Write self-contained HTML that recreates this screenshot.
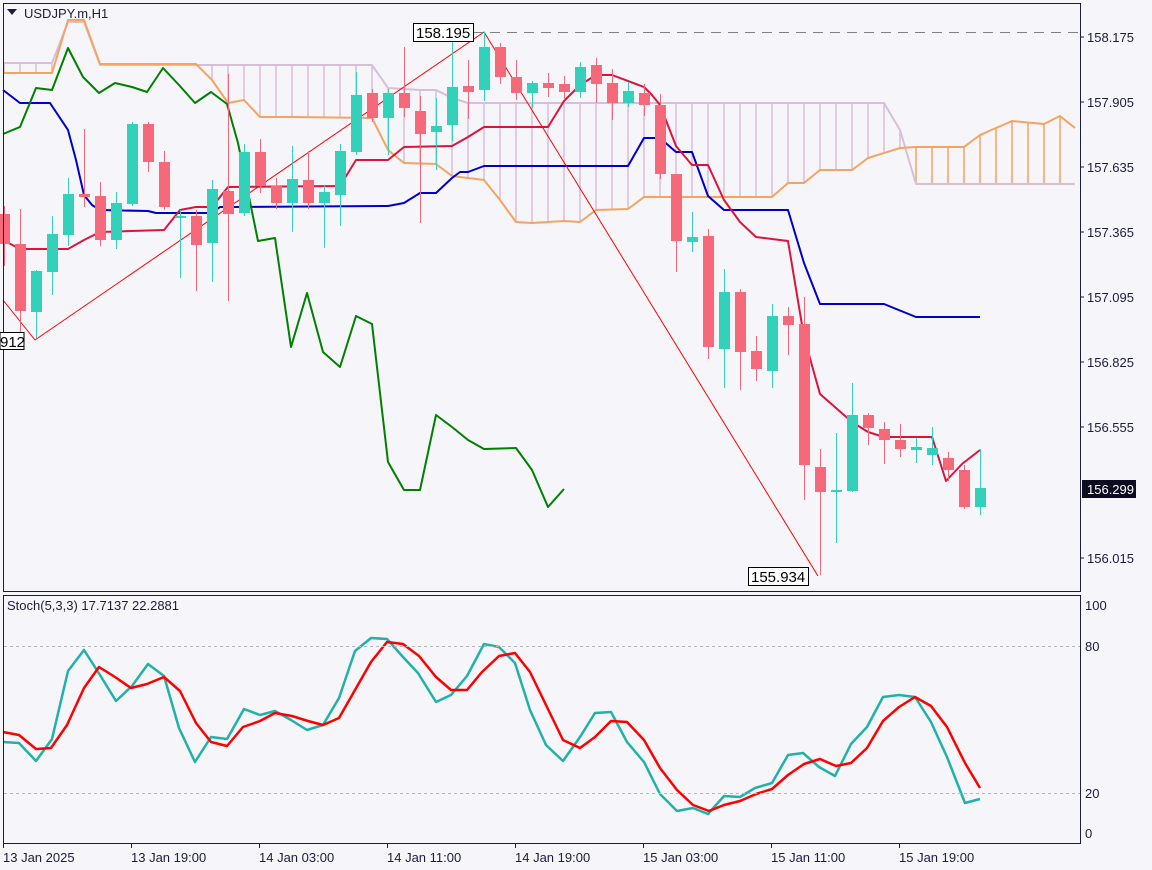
<!DOCTYPE html>
<html><head><meta charset="utf-8"><style>
html,body{margin:0;padding:0;background:#f5f5fa;}
svg{display:block;font-family:"Liberation Sans",sans-serif;}
</style></head><body>
<svg id="s" width="1152" height="870" viewBox="0 0 1152 870" xmlns="http://www.w3.org/2000/svg">
<rect x="0" y="0" width="1152" height="870" fill="#f5f5fa"/>
<g id="hatch"></g>
<g id="lines"></g>
<g id="candles"></g>
<g id="stoch"></g>
<!-- frames -->
<rect x="3.5" y="3.5" width="1077" height="588" fill="none" stroke="#1c1c3c" stroke-width="1"/>
<rect x="3.5" y="595.5" width="1077" height="248" fill="none" stroke="#1c1c3c" stroke-width="1"/>
<g font-size="13" fill="#1c1c3c">
<polygon points="7,9 17,9 12,15" fill="#1c1c3c"/>
<text x="24" y="18">USDJPY.m,H1</text>
<text x="1087" y="42">158.175</text>
<text x="1087" y="107">157.905</text>
<text x="1087" y="172">157.635</text>
<text x="1087" y="237">157.365</text>
<text x="1087" y="302">157.095</text>
<text x="1087" y="367">156.825</text>
<text x="1087" y="432">156.555</text>
<text x="1087" y="563">156.015</text>
<rect x="1082" y="480" width="54" height="18" fill="#0c0c20"/>
<text x="1087" y="494" fill="#ffffff">156.299</text>
<text x="7" y="610">Stoch(5,3,3) 17.7137 22.2881</text>
<text x="1085" y="610">100</text>
<text x="1085" y="651">80</text>
<text x="1085" y="798">20</text>
<text x="1085" y="838">0</text>
<text x="3" y="862">13 Jan 2025</text>
<text x="131" y="862">13 Jan 19:00</text>
<text x="259" y="862">14 Jan 03:00</text>
<text x="387" y="862">14 Jan 11:00</text>
<text x="515" y="862">14 Jan 19:00</text>
<text x="643" y="862">15 Jan 03:00</text>
<text x="771" y="862">15 Jan 11:00</text>
<text x="899" y="862">15 Jan 19:00</text>
</g>
<g stroke="#1c1c3c" stroke-width="1">
<line x1="1080" y1="37" x2="1084" y2="37"/><line x1="1080" y1="102" x2="1084" y2="102"/>
<line x1="1080" y1="167" x2="1084" y2="167"/><line x1="1080" y1="232" x2="1084" y2="232"/>
<line x1="1080" y1="297" x2="1084" y2="297"/><line x1="1080" y1="362" x2="1084" y2="362"/>
<line x1="1080" y1="427" x2="1084" y2="427"/><line x1="1080" y1="558" x2="1084" y2="558"/>
<line x1="3.5" y1="843" x2="3.5" y2="848"/><line x1="131.5" y1="843" x2="131.5" y2="848"/>
<line x1="259.5" y1="843" x2="259.5" y2="848"/><line x1="387.5" y1="843" x2="387.5" y2="848"/>
<line x1="515.5" y1="843" x2="515.5" y2="848"/><line x1="643.5" y1="843" x2="643.5" y2="848"/>
<line x1="771.5" y1="843" x2="771.5" y2="848"/><line x1="899.5" y1="843" x2="899.5" y2="848"/>
</g>
<g stroke="#b8b8c0" stroke-width="1" stroke-dasharray="3,3">
<line x1="4" y1="646.5" x2="1080" y2="646.5"/>
<line x1="4" y1="793.5" x2="1080" y2="793.5"/>
</g>
<line x1="473" y1="32.5" x2="1080" y2="32.5" stroke="#808080" stroke-dasharray="10,7"/>
<g id="labels" font-size="15" fill="#000">
<rect x="413.5" y="23.5" width="60" height="18" fill="#fff" stroke="#000"/>
<text x="416" y="38">158.195</text>
<rect x="748.5" y="567.5" width="60" height="18" fill="#fff" stroke="#000"/>
<text x="751" y="582">155.934</text>
<rect x="0" y="332.5" width="24" height="17" fill="#fff" stroke="#000"/>
<text x="0" y="347">912</text>
</g>
</svg>
<script>
const NS="http://www.w3.org/2000/svg";
function el(par,tag,attrs){const e=document.createElementNS(NS,tag);for(const k in attrs)e.setAttribute(k,attrs[k]);document.getElementById(par).appendChild(e);return e;}
function pl(par,pts,color,w,extra){const a={points:pts.map(p=>p.join(',')).join(' '),fill:'none',stroke:color,'stroke-width':w,'stroke-linejoin':'round'};Object.assign(a,extra||{});el(par,'polyline',a);}
function interp(pts,x){if(x<=pts[0][0])return pts[0][1];for(let i=1;i<pts.length;i++){if(x<=pts[i][0]){const a=pts[i-1],b=pts[i];return a[1]+(b[1]-a[1])*(x-a[0])/(b[0]-a[0]);}}return pts[pts.length-1][1];}
const A=[[4,73],[52,73],[68,20],[84,20],[100,64],[196,64],[212,80],[228,103],[244,100],[260,117],[292,117],[372,118],[388,150],[404,163],[436,164],[452,176],[484,180],[500,200],[516,222],[532,223],[564,221],[580,222],[596,210],[628,209],[644,197],[772,197],[788,183],[804,183],[820,170],[852,170],[868,158],[900,148],[916,147],[964,147],[980,135],[996,128],[1012,121],[1044,124],[1060,116],[1075,128]];
const B=[[4,63],[52,63],[68,22],[84,22],[100,65],[372,65],[388,88],[420,90],[436,90],[452,98],[468,103],[884,103],[900,130],[916,184],[1075,184]];
for(let x=4;x<=1075;x+=16){const ya=interp(A,x),yb=interp(B,x);el('hatch','line',{x1:x,y1:ya,x2:x,y2:yb,stroke:(ya>yb?'#d8bfd8':'#f4a460'),'stroke-width':1.5});}
pl('lines',B,'#d8bfd8',2);
pl('lines',A,'#f4a460',2);
pl('lines',[[3,90],[20,103],[50,103],[68,130],[76,160],[84,195],[92,205],[100,210],[148,211],[156,213],[212,213],[220,207],[236,207],[388,206],[404,203],[420,193],[436,193],[452,178],[460,172],[468,172],[484,166],[628,166],[644,138],[660,138],[676,152],[692,152],[708,196],[724,210],[788,210],[804,263],[820,304],[884,304],[916,317],[980,317]],'#0000cd',2);
pl('lines',[[3,240],[20,249],[68,249],[84,240],[100,232],[164,230],[180,210],[196,207],[212,207],[228,187],[340,186],[356,160],[388,160],[404,147],[452,146],[468,137],[484,127],[548,127],[564,101],[580,85],[596,75],[612,75],[644,87],[652,95],[660,105],[676,146],[692,165],[708,165],[724,200],[740,222],[756,237],[788,241],[804,337],[820,394],[836,408],[852,422],[868,432],[884,437],[932,437],[946,481],[962,464],[980,450]],'#dc143c',2);
pl('lines',[[3,134],[20,127],[36,88],[52,90],[68,48],[83,77],[99,93],[115,83],[132,87],[147,92],[163,68],[179,85],[195,103],[211,92],[227,104],[238,143],[258,241],[275,238],[291,347],[307,293],[323,352],[340,367],[356,316],[372,324],[388,462],[404,490],[420,490],[436,415],[452,427],[468,440],[484,449],[516,448],[532,470],[548,507],[564,489]],'#008000',2);
pl('lines',[[3,300],[35,340],[484,32],[818,576]],'#ff0000',1);
// candles: [bodyTop, bodyBot, high, low, bull]
const C=[[214,244,206,266,0],[244,311,209,340,0],[271,312,270,338,1],[234,272,216,295,1],[194,235,178,246,1],[194,197,129,207,0],[196,240,182,246,0],[203,240,192,249,1],[124,204,122,206,1],[124,162,122,172,0],[162,207,151,210,0],[216,218,210,278,1],[216,245,210,291,0],[189,243,180,282,1],[191,214,74,301,0],[152,213,144,216,1],[152,186,139,193,0],[186,203,178,209,0],[179,203,146,232,1],[180,203,151,209,0],[192,203,185,248,1],[151,195,144,226,1],[95,152,72,155,1],[93,118,89,122,0],[93,118,89,155,1],[93,108,47,117,0],[111,134,96,223,0],[126,132,98,170,1],[87,125,42,141,1],[86,92,60,119,0],[47,90,32,101,1],[47,77,43,84,0],[77,93,60,100,0],[83,93,81,108,1],[83,88,73,97,0],[84,92,76,100,0],[67,92,62,98,1],[65,84,58,103,0],[83,103,69,120,0],[91,103,82,107,1],[93,105,84,116,0],[105,174,94,179,0],[174,241,174,272,0],[237,242,212,252,1],[236,347,229,359,0],[292,349,269,388,1],[292,352,289,390,0],[351,369,336,381,0],[316,371,304,388,1],[316,325,307,355,0],[324,465,297,500,0],[467,492,449,575,0],[490,492,433,543,1],[415,491,383,492,1],[415,428,413,445,0],[429,440,422,464,0],[440,449,424,457,0],[447,450,438,463,1],[448,455,427,465,1],[458,470,452,481,0],[470,507,465,509,0],[488,507,449,515,1]];
C.forEach((c,i)=>{const x=4+16*i,col=c[4]?'#33d1b9':'#f6697b';
el('candles','line',{x1:x+0.5,y1:c[2],x2:x+0.5,y2:c[3],stroke:col,'stroke-width':1});
el('candles','rect',{x:x-5,y:c[0],width:11,height:Math.max(2,c[1]-c[0]),fill:col});});
pl('stoch',[[3,742],[19,743],[36,761],[52,739],[68,671],[84,650],[100,675],[116,701],[132,686],[148,664],[164,676],[179,728],[195,762],[211,737],[227,739],[244,709],[260,715],[275,711],[291,720],[307,730],[323,725],[339,698],[355,651],[371,638],[387,639],[403,657],[418,673],[436,702],[451,695],[467,676],[484,644],[499,647],[515,663],[530,710],[546,745],[563,761],[580,737],[595,713],[611,712],[627,742],[644,762],[660,794],[677,811],[693,808],[708,814],[724,796],[740,797],[755,788],[772,783],[788,755],[803,753],[819,767],[835,776],[851,744],[867,727],[883,697],[899,695],[915,697],[931,722],[947,757],[965,803],[980,799]],'#20b2aa',2.5);
pl('stoch',[[3,732],[19,735],[36,749],[51,748],[67,725],[84,688],[99,667],[115,677],[131,688],[147,684],[164,677],[180,691],[196,723],[211,742],[227,746],[243,727],[260,721],[275,713],[292,716],[308,721],[323,725],[339,718],[355,690],[371,662],[387,642],[403,644],[419,656],[436,677],[451,690],[467,690],[482,672],[499,656],[515,653],[530,672],[546,705],[563,740],[580,748],[595,737],[611,721],[627,722],[644,740],[660,768],[677,790],[693,805],[709,811],[724,805],[740,801],[756,794],[772,789],[788,775],[804,764],[820,759],[836,766],[851,763],[867,748],[883,721],[899,707],[915,697],[931,706],[947,727],[965,763],[980,788]],'#ff0000',2.5);
</script>
</body></html>
